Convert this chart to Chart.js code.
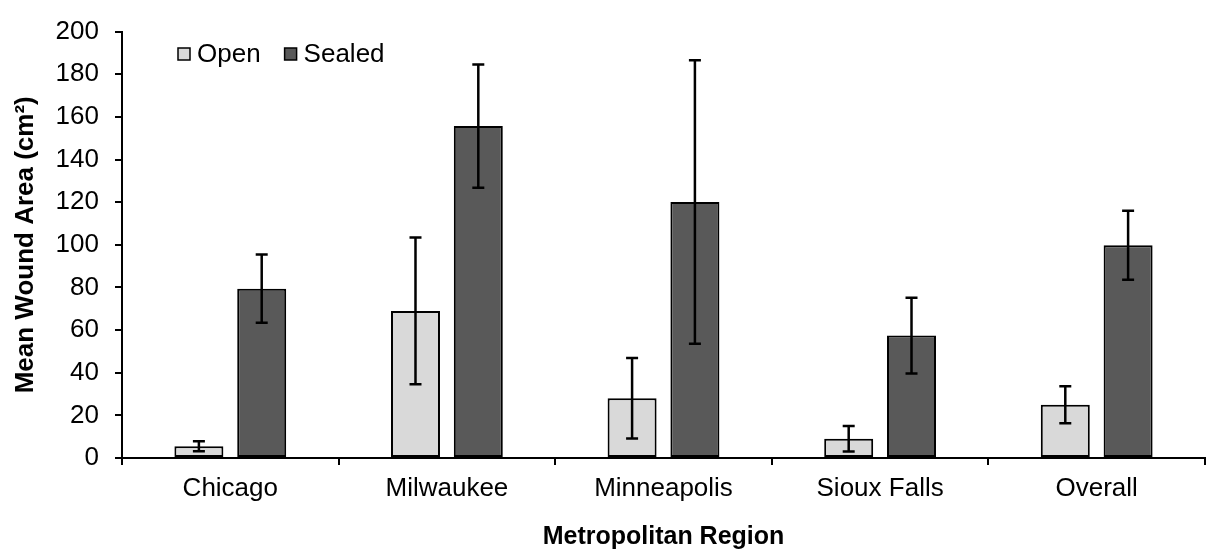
<!DOCTYPE html>
<html>
<head>
<meta charset="utf-8">
<script src="https://cdn.jsdelivr.net/npm/chart.js@4/dist/chart.umd.min.js"></script>
<style>
html,body{margin:0;padding:0;background:#fff;}
#wrap{width:1208px;height:550px;}
</style>
</head>
<body>
<div id="wrap"><canvas id="c" width="1208" height="550"></canvas></div>
<script>
const categories = ['Chicago', 'Milwaukee', 'Minneapolis', 'Sioux Falls', 'Overall'];
const seriesNames = ['Open', 'Sealed'];
const openMeans = [5.5, 69, 28, 9, 25];
const openErr = [2.3, 34.4, 18.9, 6, 8.7];
const sealedMeans = [79.4, 155.7, 120.1, 57.4, 99.8];
const sealedErr = [16, 28.9, 66.5, 17.8, 16.2];
const yTicks = [0, 20, 40, 60, 80, 100, 120, 140, 160, 180, 200];

const FONT = '"Liberation Sans", Arial, sans-serif';
const errors = [openErr, sealedErr];

const errorBars = {
  id: 'errorBars',
  afterDatasetsDraw(chart) {
    const ctx = chart.ctx, y = chart.scales.y;
    ctx.save();
    ctx.strokeStyle = '#000';
    ctx.lineWidth = 2.5;
    chart.data.datasets.forEach((ds, di) => {
      const meta = chart.getDatasetMeta(di);
      meta.data.forEach((bar, i) => {
        const v = ds.data[i], e = errors[di][i];
        const yt = y.getPixelForValue(v + e), yb = y.getPixelForValue(v - e);
        const x = bar.x, cap = 6;
        ctx.beginPath();
        ctx.moveTo(x, yt); ctx.lineTo(x, yb);
        ctx.moveTo(x - cap, yt); ctx.lineTo(x + cap, yt);
        ctx.moveTo(x - cap, yb); ctx.lineTo(x + cap, yb);
        ctx.stroke();
      });
    });
    ctx.restore();
  }
};

const customLegend = {
  id: 'customLegend',
  afterDraw(chart) {
    const ctx = chart.ctx;
    const area = chart.chartArea;
    let x = area.left + 56;
    const yc = 54;
    ctx.save();
    ctx.font = '26px ' + FONT;
    ctx.textBaseline = 'middle';
    ctx.textAlign = 'left';
    chart.data.datasets.forEach((ds) => {
      ctx.fillStyle = ds.backgroundColor;
      ctx.fillRect(x, yc - 6, 12, 12);
      ctx.strokeStyle = '#000';
      ctx.lineWidth = 1.5;
      ctx.strokeRect(x, yc - 6, 12, 12);
      ctx.fillStyle = '#000';
      ctx.fillText(ds.label, x + 19, yc + 1);
      x += 19 + ctx.measureText(ds.label).width + 24;
    });
    ctx.restore();
  }
};

new Chart(document.getElementById('c'), {
  type: 'bar',
  data: {
    labels: categories,
    datasets: [
      { label: seriesNames[0], data: openMeans, backgroundColor: '#d9d9d9', borderColor: '#000', borderWidth: 2, borderSkipped: false },
      { label: seriesNames[1], data: sealedMeans, backgroundColor: '#595959', borderColor: '#000', borderWidth: 2, borderSkipped: false }
    ]
  },
  options: {
    responsive: false,
    animation: false,
    devicePixelRatio: 1,
    layout: { padding: { top: 25, right: 3, left: 0, bottom: 0 } },
    datasets: { bar: { categoryPercentage: 0.58, barPercentage: 0.78 } },
    plugins: { legend: { display: false }, tooltip: { enabled: false } },
    scales: {
      x: {
        afterFit(s) { s.height = 92; },
        grid: { offset: true, drawOnChartArea: false, drawTicks: true, tickLength: 7, color: '#000', lineWidth: 2 },
        border: { display: true, color: '#000', width: 2 },
        ticks: { color: '#000', font: { family: FONT, size: 26 }, padding: 8, maxRotation: 0 },
        title: { display: true, text: 'Metropolitan Region', color: '#000', font: { family: FONT, size: 25, weight: 'bold', lineHeight: 1 }, padding: { top: 0, bottom: 0 } }
      },
      y: {
        min: 0, max: 200,
        afterFit(s) { s.width = 122; },
        afterBuildTicks(s) { s.ticks = yTicks.map(v => ({ value: v })); },
        grid: { drawOnChartArea: false, drawTicks: true, tickLength: 7, color: '#000', lineWidth: 2 },
        border: { display: true, color: '#000', width: 2 },
        ticks: { color: '#000', font: { family: FONT, size: 26 }, padding: 16 },
        title: { display: true, text: 'Mean Wound Area (cm²)', color: '#000', font: { family: FONT, size: 26, weight: 'bold', lineHeight: 1.2 }, padding: { top: 10, bottom: 0 } }
      }
    }
  },
  plugins: [errorBars, customLegend]
});
</script>
</body>
</html>
